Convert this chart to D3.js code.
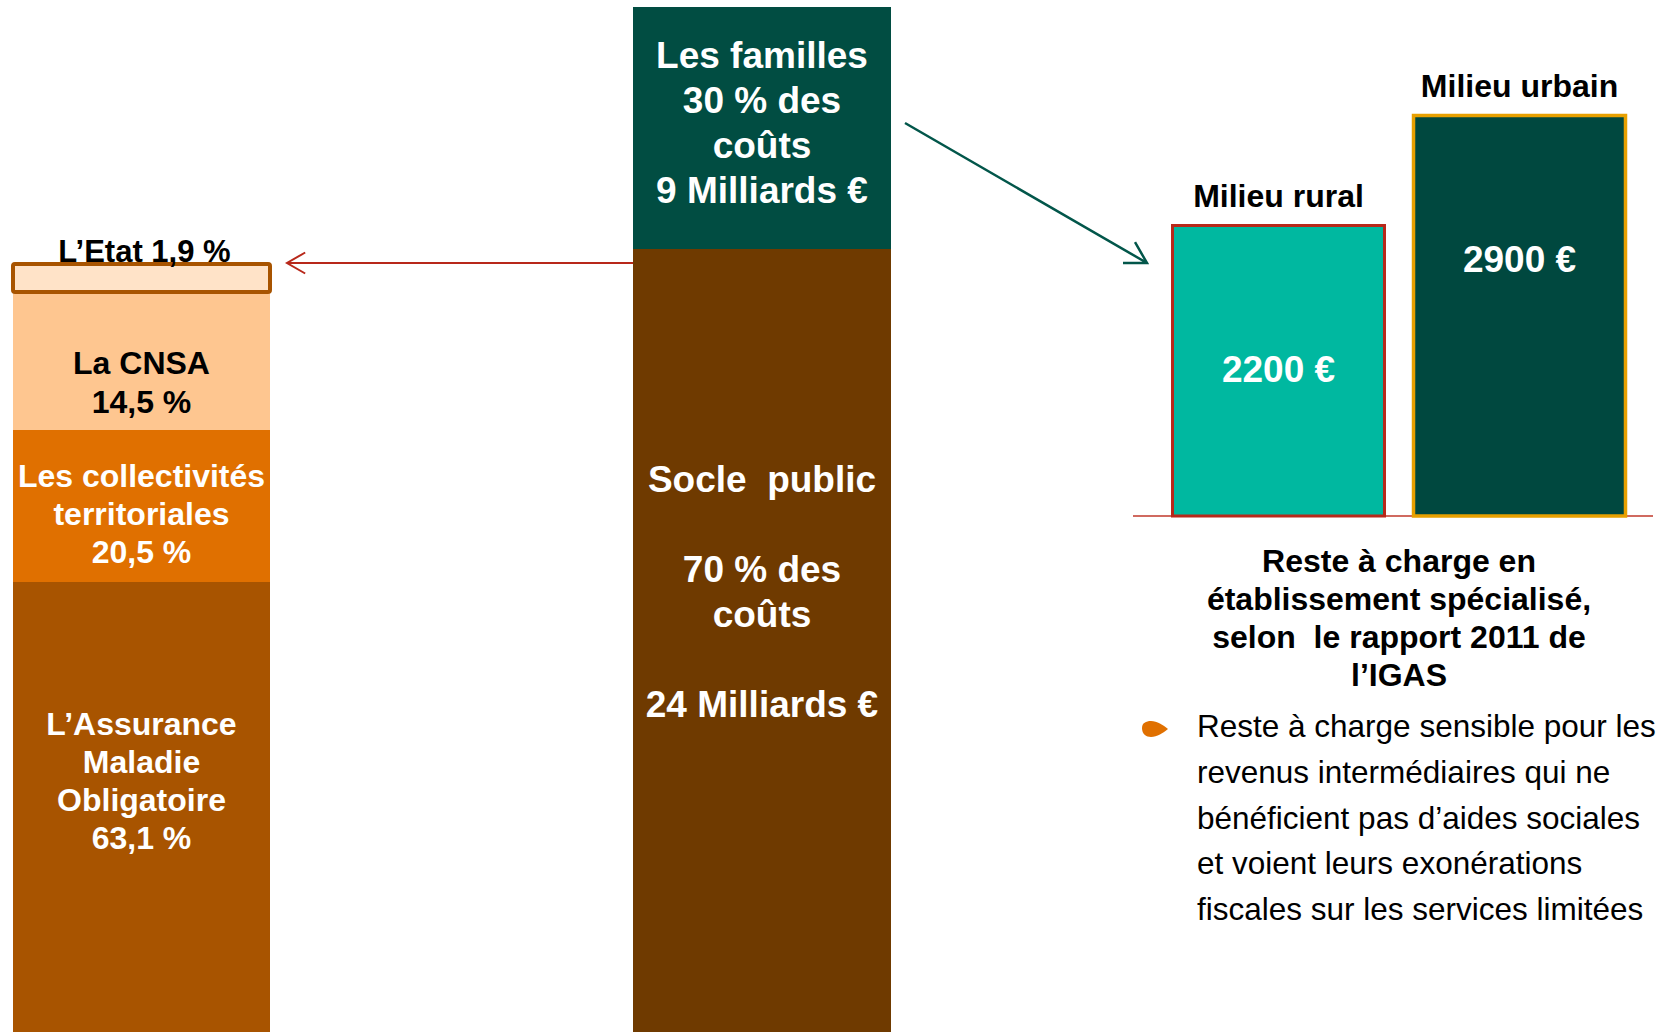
<!DOCTYPE html>
<html>
<head>
<meta charset="utf-8">
<script src="https://cdn.jsdelivr.net/npm/d3@7"></script>
<style>
  html, body { margin: 0; padding: 0; background: #fff; }
  svg { display: block; font-family: "Liberation Sans", Arial, sans-serif; }
</style>
</head>
<body>
<div id="chart"></div>
<script>
// Données
const financeurs = ["L’Etat", "La CNSA", "Les collectivités territoriales", "L’Assurance Maladie Obligatoire"]
const partsFinanceurs = [1.9, 14.5, 20.5, 63.1]
const etiquettesFinanceurs = [
    ["L’Etat 1,9 %"],
    ["La CNSA", "14,5 %"],
    ["Les collectivités", "territoriales", "20,5 %"],
    ["L’Assurance", "Maladie", "Obligatoire", "63,1 %"]
]

const blocs = ["Les familles", "Socle public"]
const partsBlocs = [30, 70]
const milliards = [9, 24]
const etiquettesBlocs = [
    ["Les familles", "30 % des", "coûts", "9 Milliards €"],
    ["Socle  public", "", "70 % des", "coûts", "", "24 Milliards €"]
]

const milieux = ["Milieu rural", "Milieu urbain"]
const resteACharge = [2200, 2900]

const titreDroite = ["Reste à charge en", "établissement spécialisé,", "selon  le rapport 2011 de", "l’IGAS"]
const puce = [
    "Reste à charge sensible pour les",
    "revenus intermédiaires qui ne",
    "bénéficient pas d’aides sociales",
    "et voient leurs exonérations",
    "fiscales sur les services limitées"
]

const width = 1660, height = 1032

const svg = d3.select("#chart").append("svg")
    .attr("width", width)
    .attr("height", height)
    .attr("viewBox", [0, 0, width, height])

// 1. Barre de gauche (financeurs du socle public)
const colFin = ["#FFE3C8", "#FEC690", "#E07000", "#A85400"]
const txtFin = ["#000", "#000", "#fff", "#fff"]
const cumFin = d3.cumsum(partsFinanceurs)
// échelle par morceaux (les segments ne sont pas dessinés à l'échelle dans l'original)
const yFin = d3.scaleLinear()
    .domain([0, ...cumFin])
    .range([262, 294, 430, 582, 1060])
const xFin = d3.scaleBand().domain(["fin"]).range([13, 270])

const finData = financeurs.map((name, i) => ({
    name, part: partsFinanceurs[i], y0: i ? cumFin[i - 1] : 0, y1: cumFin[i], i
}))

svg.append("g")
    .selectAll("rect")
    .data(finData)
    .join("rect")
    .attr("x", xFin("fin"))
    .attr("width", xFin.bandwidth())
    .attr("y", d => yFin(d.y0))
    .attr("height", d => yFin(d.y1) - yFin(d.y0))
    .attr("fill", d => colFin[d.i])

// contour de la case Etat
svg.append("rect")
    .attr("x", xFin("fin"))
    .attr("y", yFin(0) + 2)
    .attr("width", xFin.bandwidth())
    .attr("height", yFin(cumFin[0]) - yFin(0) - 4)
    .attr("rx", 2)
    .attr("fill", "none")
    .attr("stroke", "#A85400")
    .attr("stroke-width", 4)

const premiereLigneFin = [262, 374, 487, 735]
const interligneFin = [0, 39, 38, 38]
const cxFin = xFin("fin") + xFin.bandwidth() / 2

finData.forEach(d => {
    svg.append("text")
        .attr("text-anchor", "middle")
        .attr("fill", txtFin[d.i])
        .attr("font-weight", "bold")
        .attr("font-size", d.i === 0 ? "31px" : "32px")
        .selectAll("tspan")
        .data(etiquettesFinanceurs[d.i])
        .join("tspan")
        .attr("x", d.i === 0 ? cxFin + 3 : cxFin)
        .attr("y", (t, j) => premiereLigneFin[d.i] + j * interligneFin[d.i])
        .text(t => t)
})

// 2. Barre centrale (familles / socle public)
const colBlocs = ["#014D42", "#6F3A00"]
const cumBlocs = d3.cumsum(partsBlocs)
const yBloc = d3.scaleLinear()
    .domain([0, ...cumBlocs])
    .range([7, 249, 1060])
const xBloc = d3.scaleBand().domain(["bloc"]).range([633, 891])
const cxBloc = xBloc("bloc") + xBloc.bandwidth() / 2

const blocData = blocs.map((name, i) => ({
    name, part: partsBlocs[i], y0: i ? cumBlocs[i - 1] : 0, y1: cumBlocs[i], i
}))

svg.append("g")
    .selectAll("rect")
    .data(blocData)
    .join("rect")
    .attr("x", xBloc("bloc"))
    .attr("width", xBloc.bandwidth())
    .attr("y", d => yBloc(d.y0))
    .attr("height", d => yBloc(d.y1) - yBloc(d.y0))
    .attr("fill", d => colBlocs[d.i])

const premiereLigneBloc = [68, 492]
blocData.forEach(d => {
    svg.append("text")
        .attr("text-anchor", "middle")
        .attr("fill", "#fff")
        .attr("font-weight", "bold")
        .attr("font-size", "37px")
        .style("white-space", "pre")
        .selectAll("tspan")
        .data(etiquettesBlocs[d.i])
        .join("tspan")
        .attr("x", cxBloc)
        .attr("y", (t, j) => premiereLigneBloc[d.i] + j * 45)
        .text(t => t)
})

// 3. Flèches
function fleche(x1, y1, x2, y2, color, w, head) {
    const a = Math.atan2(y1 - y2, x1 - x2)
    const da = Math.PI / 6
    const p = d3.path()
    p.moveTo(x1, y1)
    p.lineTo(x2, y2)
    p.moveTo(x2 + head * Math.cos(a + da), y2 + head * Math.sin(a + da))
    p.lineTo(x2, y2)
    p.lineTo(x2 + head * Math.cos(a - da), y2 + head * Math.sin(a - da))
    svg.append("path")
        .attr("d", p.toString())
        .attr("fill", "none")
        .attr("stroke", color)
        .attr("stroke-width", w)
        .attr("stroke-linejoin", "miter")
}
fleche(xBloc("bloc"), yBloc(partsBlocs[0]) + 14, 287, yBloc(partsBlocs[0]) + 14, "#B8281A", 2, 21)
fleche(905, 123, 1147, 263, "#02564A", 2.5, 24)

// 4. Reste à charge (droite)
const xRac = d3.scaleBand().domain(milieux).range([1171, 1627]).paddingInner(0.108)
// l'original ne part pas de zéro : échelle calée sur les deux hauteurs
const yRac = d3.scaleLinear().domain([2200, 2900]).range([224, 114])
const yBase = 516
const fillRac = ["#00B8A0", "#00483F"]
const strokeRac = ["#B8281A", "#E8A000"]

svg.append("line")
    .attr("x1", 1133).attr("x2", 1653)
    .attr("y1", yBase).attr("y2", yBase)
    .attr("stroke", "#C0392B")
    .attr("stroke-width", 1.5)

const rac = svg.append("g")
    .selectAll("g")
    .data(milieux.map((m, i) => ({ m, v: resteACharge[i], i })))
    .join("g")

rac.append("rect")
    .attr("x", d => xRac(d.m) + 1.5)
    .attr("width", xRac.bandwidth() - 3)
    .attr("y", d => yRac(d.v) + 1.5)
    .attr("height", d => yBase - yRac(d.v) - 1.5)
    .attr("fill", d => fillRac[d.i])
    .attr("stroke", d => strokeRac[d.i])
    .attr("stroke-width", d => d.i ? 3.5 : 3)

rac.append("text")
    .attr("x", d => xRac(d.m) + xRac.bandwidth() / 2)
    .attr("y", d => yRac(d.v) - 17)
    .attr("text-anchor", "middle")
    .attr("font-weight", "bold")
    .attr("font-size", "32px")
    .attr("fill", "#000")
    .text(d => d.m)

rac.append("text")
    .attr("x", d => xRac(d.m) + xRac.bandwidth() / 2)
    .attr("y", d => yRac(d.v) + 158)
    .attr("text-anchor", "middle")
    .attr("font-weight", "bold")
    .attr("font-size", "37px")
    .attr("fill", "#fff")
    .text(d => d.v + " €")

// titre sous les barres
svg.append("text")
    .attr("text-anchor", "middle")
    .attr("font-weight", "bold")
    .attr("font-size", "32px")
    .attr("fill", "#000")
    .style("white-space", "pre")
    .selectAll("tspan")
    .data(titreDroite)
    .join("tspan")
    .attr("x", 1399)
    .attr("y", (t, j) => 572 + j * 38)
    .text(t => t)

// puce
svg.append("path")
    .attr("transform", "translate(1155,729)")
    .attr("d", "M-13,-1 C-13,-6 -9,-8 -4,-8 C2,-8 8,-4 13,0 C8,4 2,8 -4,8 C-9,8 -13,5 -13,-1 Z")
    .attr("fill", "#E07000")

svg.append("text")
    .attr("font-size", "31.5px")
    .attr("fill", "#000")
    .selectAll("tspan")
    .data(puce)
    .join("tspan")
    .attr("x", 1197)
    .attr("y", (t, j) => 737 + j * 45.8)
    .text(t => t)
</script>
</body>
</html>
